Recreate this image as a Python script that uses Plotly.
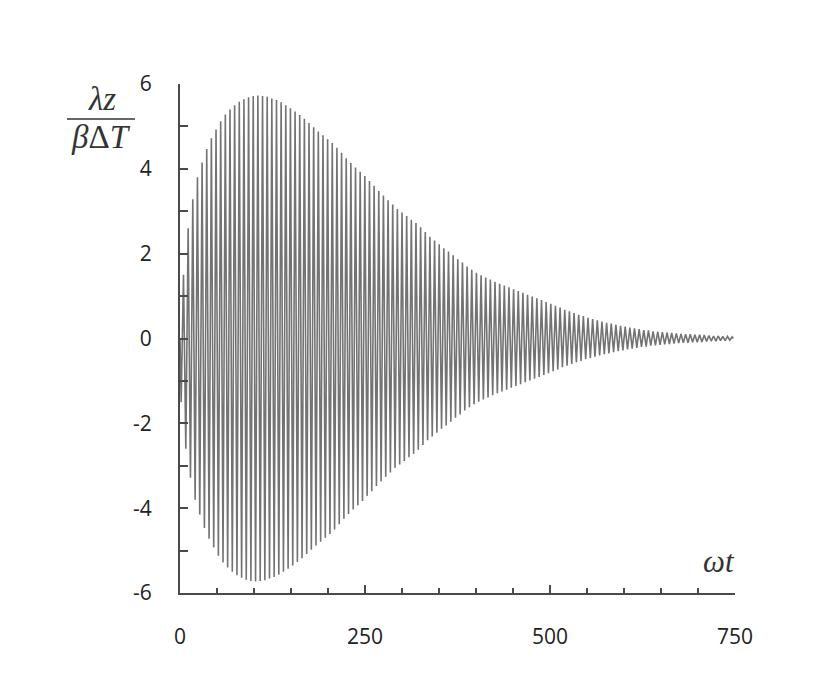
import math

import numpy as np
import plotly.graph_objects as go

# carrier period in wt units (one full swing down and up)
cycle_period = 2 * math.pi

peak_amp = [
    1.5, 2.6, 3.28, 3.8, 4.15, 4.47, 4.72, 4.93, 5.12, 5.28,
    5.40, 5.50, 5.58, 5.64, 5.69, 5.72, 5.73, 5.72, 5.70, 5.66,
    5.62, 5.57, 5.50, 5.43, 5.35, 5.27, 5.18, 5.08, 4.98, 4.88,
    4.79, 4.70, 4.61, 4.50, 4.38, 4.25, 4.14, 4.03, 3.93, 3.83,
    3.71, 3.60, 3.48, 3.37, 3.26, 3.16, 3.05, 2.97, 2.89, 2.80,
    2.72, 2.62, 2.51, 2.40, 2.31, 2.22, 2.13, 2.05, 1.96, 1.87,
    1.79, 1.70, 1.62, 1.55, 1.49, 1.44, 1.39, 1.34, 1.29, 1.25,
    1.21, 1.16, 1.12, 1.08, 1.03, 0.99, 0.95, 0.91, 0.86, 0.82,
    0.77, 0.73, 0.68, 0.64, 0.60, 0.56, 0.53, 0.49, 0.46, 0.43,
    0.40, 0.37, 0.35, 0.32, 0.30, 0.28, 0.26, 0.24, 0.22, 0.20,
    0.19, 0.17, 0.16, 0.15, 0.14, 0.13, 0.12, 0.11, 0.10, 0.10,
    0.09, 0.09, 0.08, 0.07, 0.06, 0.06, 0.05, 0.05, 0.04,
]

x_tickvals = [0, 250, 500, 750]
x_ticktext = ["0", "250", "500", "750"]
y_tickvals = [-6, -4, -2, 0, 2, 4, 6]
y_ticktext = ["-6", "-4", "-2", "0", "2", "4", "6"]

# zigzag: each cycle swings to -a then +a
wt = [0.0]
z = [0.0]
for k, a in enumerate(peak_amp):
    wt += [k * cycle_period + cycle_period / 4, k * cycle_period + 3 * cycle_period / 4]
    z += [-a, a]
wt.append(len(peak_amp) * cycle_period)
z.append(0.0)

fig = go.Figure()
fig.add_trace(
    go.Scatter(
        x=np.array(wt),
        y=np.array(z),
        mode="lines",
        line=dict(color="#737373", width=1.6),
        showlegend=False,
        hoverinfo="skip",
    )
)

axis_color = "#4a4a4a"
fig.update_xaxes(
    range=[0, 750],
    tickvals=x_tickvals,
    ticktext=x_ticktext,
    ticks="inside",
    ticklen=8,
    tickwidth=2,
    tickcolor=axis_color,
    minor=dict(dtick=50, ticks="inside", ticklen=5, tickwidth=2, tickcolor=axis_color),
    showline=True,
    linecolor=axis_color,
    linewidth=2,
    showgrid=False,
    zeroline=False,
    ticklabelstandoff=24,
    tickfont=dict(family="Open Sans", size=21, color="#222222"),
)
fig.update_yaxes(
    range=[-6, 6],
    tickvals=y_tickvals,
    ticktext=y_ticktext,
    ticks="inside",
    ticklen=8,
    tickwidth=2,
    tickcolor=axis_color,
    minor=dict(dtick=1, ticks="inside", ticklen=8, tickwidth=2, tickcolor=axis_color),
    showline=True,
    linecolor=axis_color,
    linewidth=2,
    showgrid=False,
    zeroline=False,
    ticklabelstandoff=22,
    tickfont=dict(family="Open Sans", size=21, color="#222222"),
)

# page body adds an 8px offset, so pixel placements below are screen coords minus 8
OFF = 8
W, H = 834, 693
L, T = 180 - OFF, 84 - OFF
R, B = W - (735 - OFF), H - (593 - OFF)


def px_x(v):
    return (v - OFF - L) / (W - L - R)


def px_y(v):
    return 1 - (v - OFF - T) / (H - T - B)


serif = dict(family="Liberation Serif", size=33, color="#333333")
fig.add_annotation(
    text="<i>λz</i>", x=px_x(102), y=px_y(99), xref="paper", yref="paper",
    xanchor="center", yanchor="middle", showarrow=False, font=serif,
)
fig.add_annotation(
    text="<i>β</i>Δ<i>T</i>", x=px_x(101), y=px_y(137), xref="paper", yref="paper",
    xanchor="center", yanchor="middle", showarrow=False, font=serif,
)
fig.add_annotation(
    text="<i>ωt</i>", x=px_x(719), y=px_y(561), xref="paper", yref="paper",
    xanchor="center", yanchor="middle", showarrow=False,
    font=dict(family="Liberation Serif", size=31, color="#333333"),
)
fig.add_shape(
    type="line", xref="paper", yref="paper",
    x0=px_x(67), x1=px_x(135), y0=px_y(119), y1=px_y(119),
    line=dict(color="#333333", width=1.5),
)

fig.update_layout(
    width=W,
    height=H,
    margin=dict(l=L, r=R, t=T, b=B),
    plot_bgcolor="white",
    paper_bgcolor="white",
)

fig.write_html("out.html")
